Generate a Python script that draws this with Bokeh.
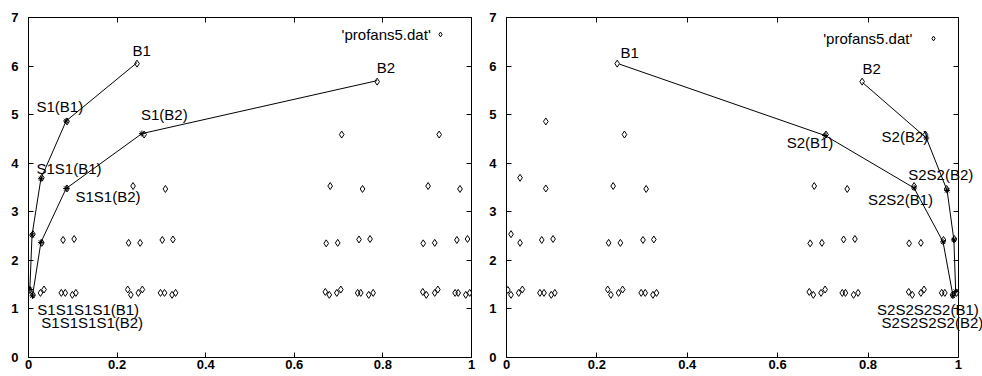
from bokeh.plotting import figure
from bokeh.models import (Label, Legend, LegendItem, LinearAxis, FixedTicker, Range1d)
from bokeh.layouts import row
from bokeh.embed import file_html
from bokeh.resources import INLINE

FONT = "Liberation Sans"

# ---------------- data ----------------
x_ticks = [0, 0.2, 0.4, 0.6, 0.8, 1]
x_tick_labels = ["0", "0.2", "0.4", "0.6", "0.8", "1"]
y_ticks = [0, 1, 2, 3, 4, 5, 6, 7]
y_tick_labels = ["0", "1", "2", "3", "4", "5", "6", "7"]

key_label = "'profans5.dat'"

# 'profans5.dat' points
dat_x = [0.245, 0.787,
         0.087, 0.261, 0.707, 0.927,
         0.030, 0.087, 0.236, 0.309, 0.681, 0.754, 0.902, 0.974,
         0.010, 0.030, 0.078, 0.103, 0.226, 0.252, 0.302, 0.326,
         0.672, 0.698, 0.746, 0.771, 0.891, 0.917, 0.967, 0.991,
         0.003, 0.010, 0.027, 0.035, 0.074, 0.083, 0.099, 0.107,
         0.224, 0.231, 0.248, 0.257, 0.298, 0.307, 0.324, 0.332,
         0.670, 0.679, 0.696, 0.705, 0.743, 0.750, 0.768, 0.778,
         0.890, 0.898, 0.917, 0.924, 0.963, 0.970, 0.987, 0.996]
dat_y = [6.05, 5.68,
         4.86, 4.59, 4.59, 4.59,
         3.70, 3.48, 3.53, 3.47, 3.53, 3.47, 3.53, 3.47,
         2.54, 2.36, 2.42, 2.44, 2.36, 2.36, 2.42, 2.43,
         2.35, 2.36, 2.43, 2.44, 2.35, 2.36, 2.42, 2.44,
         1.39, 1.29, 1.33, 1.40, 1.33, 1.33, 1.29, 1.33,
         1.40, 1.29, 1.33, 1.40, 1.33, 1.33, 1.29, 1.33,
         1.35, 1.29, 1.33, 1.40, 1.33, 1.33, 1.29, 1.33,
         1.35, 1.29, 1.33, 1.40, 1.33, 1.33, 1.29, 1.33]

# left panel paths (S1 iterations)
s1_b1_x = [0.245, 0.085, 0.028, 0.008, 0.003]
s1_b1_y = [6.07, 4.87, 3.68, 2.52, 1.40]
s1_b2_x = [0.787, 0.256, 0.085, 0.028, 0.009]
s1_b2_y = [5.70, 4.61, 3.48, 2.37, 1.27]

# right panel paths (S2 iterations)
s2_b1_x = [0.250, 0.705, 0.902, 0.966, 0.988]
s2_b1_y = [6.04, 4.57, 3.49, 2.38, 1.27]
s2_b2_x = [0.788, 0.929, 0.975, 0.990, 0.994]
s2_b2_y = [5.66, 4.52, 3.44, 2.42, 1.36]

# point labels
left_label_text = ["B1", "S1(B1)", "S1(B2)", "S1S1(B1)", "S1S1(B2)",
                   "S1S1S1S1(B1)", "S1S1S1S1(B2)", "B2"]
left_label_x = [0.235, 0.018, 0.254, 0.018, 0.106, 0.020, 0.029, 0.786]
left_label_y = [6.32, 5.17, 5.00, 3.90, 3.32, 0.98, 0.73, 5.98]

right_label_text = ["B1", "B2", "S2(B1)", "S2(B2)", "S2S2(B2)", "S2S2(B1)",
                    "S2S2S2S2(B1)", "S2S2S2S2(B2)"]
right_label_x = [0.252, 0.788, 0.620, 0.830, 0.889, 0.800, 0.820, 0.830]
right_label_y = [6.28, 5.94, 4.43, 4.55, 3.77, 3.26, 0.985, 0.73]

# ---------------- layout ----------------
H = 374
BT = 17
BB = 17
X_PX = 450  # pixel length of the unit x span in the right panel


def style_axis(ax, ticks, tick_labels, standoff, show_labels=True):
    ax.ticker = FixedTicker(ticks=ticks)
    ax.major_tick_in = 5
    ax.major_tick_out = 0
    ax.minor_tick_line_color = None
    ax.axis_line_color = "black"
    ax.major_tick_line_color = "black"
    ax.major_label_standoff = standoff
    if show_labels:
        ax.major_label_overrides = dict(zip(ticks, tick_labels))
        ax.major_label_text_font = FONT
        ax.major_label_text_font_size = "13px"
        ax.major_label_text_font_style = "bold"
        ax.major_label_text_color = "black"
    else:
        ax.major_label_text_color = None
        ax.major_label_text_alpha = 0
        ax.major_label_text_font_size = "1px"


def make_panel(width, bl, br, paths, lt, lx, ly, key_text_x, key_text_y,
               key_dx, key_dy, extend):
    fw = width - bl - br - (2 if extend else 0)
    fh = H - BT - BB
    x_max = fw / X_PX if extend else 1.0
    unit_px = X_PX if extend else fw
    p = figure(width=width, height=H, x_range=Range1d(0, x_max), y_range=Range1d(0, 7),
               output_backend="svg", toolbar_location=None,
               min_border_left=bl, min_border_right=br,
               min_border_top=BT, min_border_bottom=BB,
               background_fill_color="white", border_fill_color="white")
    p.xgrid.visible = False
    p.ygrid.visible = False
    p.outline_line_color = None if extend else "black"

    for ax in p.xaxis:
        style_axis(ax, x_ticks, x_tick_labels, 2)
        ax.bounds = (0, 1)
    for ax in p.yaxis:
        style_axis(ax, y_ticks, y_tick_labels, 10)

    top = LinearAxis()
    style_axis(top, x_ticks, x_tick_labels, 0, show_labels=False)
    top.bounds = (0, 1)
    p.add_layout(top, "above")
    right = LinearAxis()
    style_axis(right, y_ticks, y_tick_labels, 0, show_labels=False)
    if extend:
        right.fixed_location = 1
    p.add_layout(right, "right")

    sc = p.scatter(dat_x, dat_y, marker="diamond", size=7,
                   fill_color=None, line_color="black", line_width=1)

    for xs, ys in paths:
        p.line(xs, ys, line_color="black", line_width=1)
        p.scatter(xs[1:], ys[1:], marker="asterisk", size=6,
                  line_color="black", line_width=1)

    for t, x, y in zip(lt, lx, ly):
        p.add_layout(Label(x=x, y=y, text=t, text_align="left", text_baseline="middle",
                           text_font=FONT, text_font_size="15px", text_color="black"))

    p.add_layout(Label(x=key_text_x, y=key_text_y, text=key_label,
                       text_align="right", text_baseline="middle",
                       text_font=FONT, text_font_size="15px", text_color="black"))

    g = 12
    leg = Legend(items=[LegendItem(label=" ", renderers=[sc])],
                 location=(unit_px - key_dx - g / 2, fh - key_dy - g / 2),
                 glyph_width=g, glyph_height=g, label_width=0, label_height=g,
                 label_standoff=0, padding=0, spacing=0, margin=0,
                 label_text_font_size="1px", label_text_color=None, label_text_alpha=0,
                 border_line_color=None, background_fill_alpha=0)
    p.add_layout(leg)
    return p


p1 = make_panel(484, 28, 13,
                [(s1_b1_x, s1_b1_y), (s1_b2_x, s1_b2_y)],
                left_label_text, left_label_x, left_label_y,
                0.908, 6.66, 31, 17, False)
p2 = make_panel(498, 22, 0,
                [(s2_b1_x, s2_b1_y), (s2_b2_x, s2_b2_y)],
                right_label_text, right_label_x, right_label_y,
                0.898, 6.56, 23, 21, True)

layout = row(p1, p2)
open("out.html", "w").write(file_html(layout, INLINE))
